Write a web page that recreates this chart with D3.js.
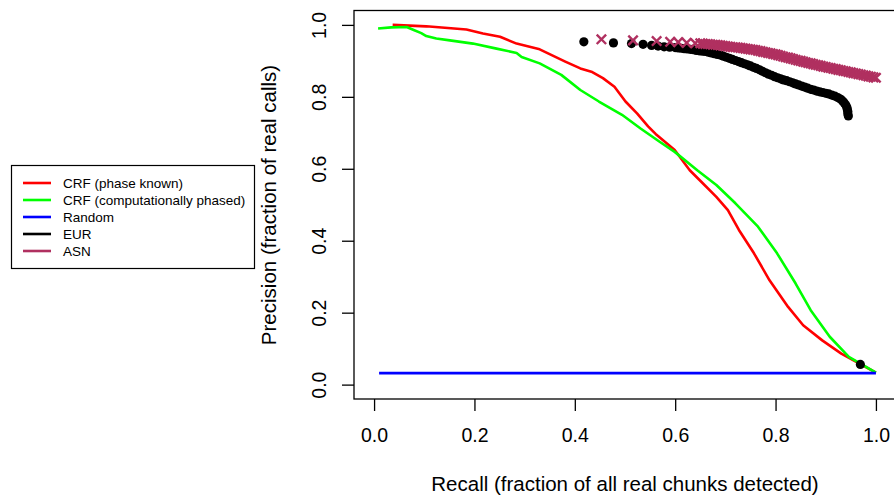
<!DOCTYPE html>
<html>
<head>
<meta charset="utf-8">
<script src="https://cdnjs.cloudflare.com/ajax/libs/d3/7.8.5/d3.min.js"></script>
<style>
  html, body { margin: 0; padding: 0; background: #fff; }
  svg text { font-family: "Liberation Sans", Arial, Helvetica, sans-serif; fill: #000; }
</style>
</head>
<body>
<svg id="chart" width="894" height="498"></svg>
<script>
// CRF (phase known) - red curve
var crfKnownRecall = [0.037, 0.104, 0.184, 0.217, 0.251, 0.284, 0.330, 0.381, 0.411, 0.433, 0.456, 0.479, 0.501, 0.524, 0.546, 0.561, 0.599, 0.629, 0.652, 0.682, 0.705, 0.727, 0.757, 0.788, 0.825, 0.855, 0.893, 0.931, 0.968, 1.0];
var crfKnownPrec   = [1.000, 0.996, 0.987, 0.976, 0.967, 0.948, 0.932, 0.898, 0.879, 0.870, 0.852, 0.828, 0.787, 0.754, 0.718, 0.697, 0.652, 0.596, 0.564, 0.522, 0.485, 0.430, 0.365, 0.290, 0.216, 0.165, 0.123, 0.086, 0.058, 0.033];

// CRF (computationally phased) - green curve
var crfPhasedRecall = [0.008, 0.034, 0.065, 0.079, 0.094, 0.104, 0.124, 0.151, 0.197, 0.244, 0.284, 0.294, 0.330, 0.373, 0.411, 0.448, 0.494, 0.531, 0.569, 0.599, 0.644, 0.682, 0.720, 0.765, 0.803, 0.840, 0.870, 0.908, 0.946, 1.0];
var crfPhasedPrec   = [0.990, 0.993, 0.994, 0.986, 0.977, 0.969, 0.962, 0.957, 0.948, 0.934, 0.922, 0.911, 0.893, 0.861, 0.819, 0.787, 0.750, 0.712, 0.675, 0.647, 0.596, 0.555, 0.504, 0.439, 0.365, 0.281, 0.207, 0.133, 0.077, 0.033];

// Random baseline - blue
var randomRecall = [0.010, 1.0];
var randomPrec   = [0.032, 0.032];

// EUR points (black dots)
var eurRecall = [0.418, 0.477, 0.513, 0.536, 0.553, 0.566, 0.578, 0.589,
  0.600, 0.606, 0.612, 0.618, 0.624, 0.630, 0.636, 0.642, 0.648, 0.654, 0.660, 0.666, 0.672, 0.678, 0.684, 0.690, 0.696,
  0.702, 0.708, 0.714, 0.720, 0.726, 0.732, 0.738, 0.744, 0.750, 0.756, 0.762, 0.768, 0.774, 0.780, 0.786, 0.792, 0.798,
  0.804, 0.810, 0.816, 0.822, 0.828, 0.834, 0.840, 0.846, 0.852, 0.858, 0.864, 0.870, 0.876, 0.882, 0.888, 0.894, 0.900,
  0.906, 0.912, 0.918, 0.924, 0.930, 0.934, 0.937, 0.940, 0.942, 0.943, 0.944, 0.944, 0.945,
  0.969];
var eurPrec = [0.953, 0.950, 0.948, 0.946, 0.943, 0.941, 0.939, 0.938,
  0.937, 0.936, 0.935, 0.934, 0.933, 0.932, 0.931, 0.929, 0.928, 0.927, 0.926, 0.924, 0.922, 0.920, 0.918, 0.916, 0.913,
  0.910, 0.907, 0.904, 0.901, 0.898, 0.895, 0.892, 0.889, 0.886, 0.882, 0.879, 0.875, 0.871, 0.867, 0.863, 0.860, 0.856,
  0.853, 0.850, 0.847, 0.845, 0.842, 0.839, 0.836, 0.833, 0.830, 0.827, 0.824, 0.821, 0.819, 0.816, 0.814, 0.812, 0.810,
  0.808, 0.805, 0.802, 0.798, 0.793, 0.788, 0.783, 0.777, 0.771, 0.765, 0.759, 0.753, 0.747,
  0.056];

// ASN points (maroon crosses)
var asnRecall = [0.453, 0.516, 0.563, 0.590, 0.606, 0.623, 0.640,
  0.650, 0.655, 0.660, 0.665, 0.670, 0.675, 0.680, 0.685, 0.690, 0.695, 0.700, 0.705, 0.710, 0.715, 0.720, 0.725,
  0.730, 0.735, 0.740, 0.745, 0.750, 0.755, 0.760, 0.765, 0.770, 0.775, 0.780, 0.785, 0.790, 0.795, 0.800, 0.805,
  0.810, 0.815, 0.820, 0.825, 0.830, 0.835, 0.840, 0.845, 0.850, 0.855, 0.860, 0.865, 0.870, 0.875, 0.880, 0.885,
  0.890, 0.895, 0.900, 0.905, 0.910, 0.915, 0.920, 0.925, 0.930, 0.935, 0.940, 0.945, 0.950, 0.955, 0.960, 0.965,
  0.970, 0.975, 0.980, 0.985, 0.990, 0.995, 1.000];
var asnPrec = [0.960, 0.957, 0.955, 0.953, 0.952, 0.950, 0.949,
  0.949, 0.948, 0.947, 0.947, 0.946, 0.945, 0.945, 0.944, 0.943, 0.942, 0.941, 0.940, 0.939, 0.938, 0.938, 0.937,
  0.936, 0.935, 0.934, 0.933, 0.932, 0.931, 0.930, 0.928, 0.927, 0.925, 0.924, 0.922, 0.921, 0.919, 0.918, 0.916,
  0.914, 0.912, 0.910, 0.909, 0.907, 0.905, 0.903, 0.901, 0.900, 0.898, 0.896, 0.894, 0.893, 0.891, 0.889, 0.888,
  0.886, 0.884, 0.883, 0.881, 0.880, 0.878, 0.877, 0.875, 0.874, 0.872, 0.871, 0.869, 0.868, 0.866, 0.865, 0.863,
  0.862, 0.860, 0.859, 0.857, 0.856, 0.854, 0.853];

var tickValues = [0, 0.2, 0.4, 0.6, 0.8, 1.0];
var legendLabels = ['CRF (phase known)', 'CRF (computationally phased)', 'Random', 'EUR', 'ASN'];
var legendColors = ['#ff0000', '#00ff00', '#0000ff', '#000000', '#b03060'];

var svg = d3.select('#chart');
var tickFont = 19.5, titleFont = 20.5;

// R-style 4% extended ranges
var x = d3.scaleLinear().domain([-0.04, 1.04]).range([354, 896]);
var y = d3.scaleLinear().domain([-0.04, 1.04]).range([399, 10.5]);

function zip(a, b) {
  return a.map(function(v, i) { return [v, b[i]]; });
}

var line = d3.line()
  .x(function(d) { return x(d[0]); })
  .y(function(d) { return y(d[1]); });

// curves
[[crfKnownRecall, crfKnownPrec, legendColors[0]],
 [crfPhasedRecall, crfPhasedPrec, legendColors[1]],
 [randomRecall, randomPrec, legendColors[2]]].forEach(function(s) {
  svg.append('path')
    .datum(zip(s[0], s[1]))
    .attr('d', line)
    .attr('fill', 'none')
    .attr('stroke', s[2])
    .attr('stroke-width', 2.6)
    .attr('stroke-linejoin', 'round');
});

// EUR dots
svg.append('g').selectAll('circle')
  .data(zip(eurRecall, eurPrec))
  .enter().append('circle')
  .attr('cx', function(d) { return x(d[0]); })
  .attr('cy', function(d) { return y(d[1]); })
  .attr('r', 4.6)
  .attr('fill', '#000');

// ASN crosses
var cs = 4.7;
svg.append('g').selectAll('path')
  .data(zip(asnRecall, asnPrec))
  .enter().append('path')
  .attr('transform', function(d) { return 'translate(' + x(d[0]) + ',' + y(d[1]) + ')'; })
  .attr('d', 'M' + (-cs) + ',' + (-cs) + 'L' + cs + ',' + cs + 'M' + (-cs) + ',' + cs + 'L' + cs + ',' + (-cs))
  .attr('stroke', legendColors[4])
  .attr('stroke-width', 2.4)
  .attr('fill', 'none');

// plot box
svg.append('rect')
  .attr('x', 354).attr('y', 10.5)
  .attr('width', 542).attr('height', 388.5)
  .attr('fill', 'none')
  .attr('stroke', '#000')
  .attr('stroke-width', 1.3);

// x axis
var xAxis = svg.append('g')
  .attr('transform', 'translate(0,399)')
  .call(d3.axisBottom(x).tickValues(tickValues).tickSize(12).tickFormat(d3.format('.1f')));
xAxis.select('.domain').remove();
xAxis.selectAll('line').attr('stroke-width', 1.3);
xAxis.selectAll('text')
  .attr('y', 43).attr('dy', null)
  .style('font-size', tickFont + 'px')
  .style('font-family', '"Liberation Sans", Arial, sans-serif');

// y axis with rotated labels
var yAxis = svg.append('g')
  .attr('transform', 'translate(354,0)')
  .call(d3.axisLeft(y).tickValues(tickValues).tickSize(12).tickFormat(d3.format('.1f')));
yAxis.select('.domain').remove();
yAxis.selectAll('line').attr('stroke-width', 1.3);
yAxis.selectAll('text')
  .attr('x', null).attr('dy', null)
  .attr('transform', 'translate(-28,0) rotate(-90)')
  .attr('text-anchor', 'middle')
  .style('font-size', tickFont + 'px')
  .style('font-family', '"Liberation Sans", Arial, sans-serif');

// axis titles
svg.append('text')
  .attr('x', 625).attr('y', 491)
  .attr('text-anchor', 'middle')
  .style('font-size', titleFont + 'px')
  .text('Recall (fraction of all real chunks detected)');

svg.append('text')
  .attr('transform', 'translate(276,205) rotate(-90)')
  .attr('text-anchor', 'middle')
  .style('font-size', titleFont + 'px')
  .text('Precision (fraction of real calls)');

// legend
var legend = svg.append('g');
legend.append('rect')
  .attr('x', 11.5).attr('y', 165.5)
  .attr('width', 243).attr('height', 103)
  .attr('fill', '#fff')
  .attr('stroke', '#000')
  .attr('stroke-width', 1.2);

legendLabels.forEach(function(lab, i) {
  var ly = 183 + i * 17;
  legend.append('line')
    .attr('x1', 23).attr('x2', 51)
    .attr('y1', ly).attr('y2', ly)
    .attr('stroke', legendColors[i])
    .attr('stroke-width', 2.6);
  legend.append('text')
    .attr('x', 63).attr('y', ly + 4.8)
    .style('font-size', '13.5px')
    .text(lab);
});
</script>
</body>
</html>
